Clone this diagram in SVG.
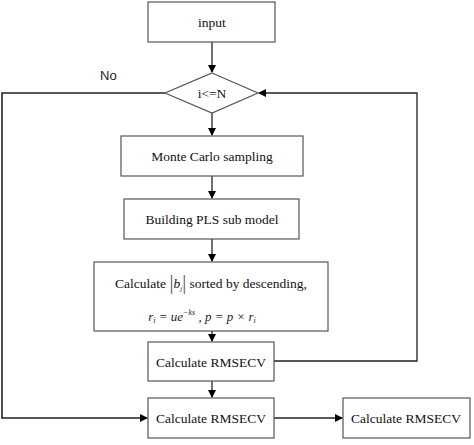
<svg xmlns="http://www.w3.org/2000/svg" width="474" height="445" viewBox="0 0 474 445">
<style>
.box{fill:#fff;stroke:#555;stroke-width:1.2}
.t{font-family:"Liberation Serif","Times New Roman",serif;font-size:13.5px;fill:#111;text-anchor:middle}
.m{font-family:"Liberation Serif","Times New Roman",serif;font-style:italic;font-size:13px;fill:#222;text-anchor:middle}
.c{fill:none;stroke:#222;stroke-width:1.3}
</style>
<defs>
<marker id="ah" markerWidth="8" markerHeight="8" refX="7" refY="4" orient="auto" markerUnits="userSpaceOnUse">
<path d="M0,0 L8,4 L0,8 Z" fill="#000"/>
</marker>
</defs>
<rect width="474" height="445" fill="#fff"/>
<g id="connectors">
<path class="c" d="M212,42 V72" marker-end="url(#ah)"/>
<path class="c" d="M212,113 V135" marker-end="url(#ah)"/>
<path class="c" d="M212,176 V198" marker-end="url(#ah)"/>
<path class="c" d="M212,239 V261" marker-end="url(#ah)"/>
<path class="c" d="M212,331 V341" marker-end="url(#ah)"/>
<path class="c" d="M212,381 V397" marker-end="url(#ah)"/>
<path class="c" d="M274,361 H417 V93 H259" marker-end="url(#ah)"/>
<path class="c" d="M165,93 H2 V418 H147" marker-end="url(#ah)" style="stroke-width:1.6"/>
<path class="c" d="M274,418 H342" marker-end="url(#ah)"/>
<text x="100" y="80" style="font-family:'Liberation Sans',Arial,sans-serif;font-size:13px;fill:#222">No</text>
</g>
<g id="input">
<rect class="box" x="148" y="2" width="127" height="40"/>
<text class="t" x="212" y="27">input</text>
</g>
<g id="cond">
<path class="box" d="M212,73 L258,93 L212,113 L165,93 Z"/>
<text class="t" x="212" y="98">i&lt;=N</text>
</g>
<g id="monte">
<rect class="box" x="121" y="136" width="182" height="40"/>
<text class="t" x="212" y="161">Monte Carlo sampling</text>
</g>
<g id="pls">
<rect class="box" x="124" y="199" width="175" height="40"/>
<text class="t" x="212" y="224">Building PLS sub model</text>
</g>
<g id="calcb">
<rect class="box" x="94" y="262" width="234" height="69"/>
<text class="t" x="211" y="288">Calculate <tspan font-size="20" dy="1" fill="#555">|</tspan><tspan font-style="italic" dy="-1">b</tspan><tspan font-style="italic" font-size="7" dy="3">j</tspan><tspan font-size="20" dy="-2" fill="#555">|</tspan><tspan dy="-1"> sorted by descending,</tspan></text>
<text class="m" x="202" y="321">r<tspan font-size="8" dy="2">i</tspan><tspan dy="-2"> = ue</tspan><tspan font-size="8" dy="-6">−ks</tspan><tspan dy="6"> , p = p × r</tspan><tspan font-size="8" dy="2">i</tspan></text>
</g>
<g id="rmse1">
<rect class="box" x="148" y="342" width="126" height="39"/>
<text class="t" x="211" y="367">Calculate RMSECV</text>
</g>
<g id="rmse2">
<rect class="box" x="148" y="398" width="126" height="40"/>
<text class="t" x="211" y="423">Calculate RMSECV</text>
</g>
<g id="rmse3">
<rect class="box" x="343" y="398" width="127" height="40"/>
<text class="t" x="406" y="423">Calculate RMSECV</text>
</g>
</svg>
